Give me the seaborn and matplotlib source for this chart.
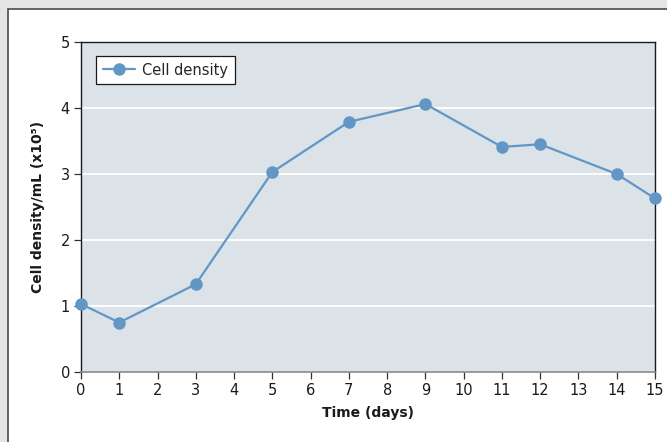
import matplotlib
matplotlib.use("Agg")
import matplotlib.pyplot as plt
import matplotlib.patches as mpatches
import seaborn as sns
import pandas as pd

# Culture growth readings
days = [0, 1, 3, 5, 7, 9, 11, 12, 14, 15]
density = [1.03, 0.75, 1.33, 3.03, 3.79, 4.06, 3.41, 3.45, 3.00, 2.63]
x_ticks = list(range(0, 16))
y_ticks = [0, 1, 2, 3, 4, 5]
series_name = "Cell density"

df = pd.DataFrame({"day": days, "density": density})

sns.set_theme(style="white")
plt.rcParams["font.family"] = ["DejaVu Sans"]

W, H = 667, 442
fig = plt.figure(figsize=(W / 100, H / 100), dpi=100)
fig.patch.set_facecolor("#e4e4e4")

# white card behind the chart
card = mpatches.Rectangle((8 / W, -0.05), 1.1, 1 - 9 / H + 0.05,
                          transform=fig.transFigure, facecolor="white",
                          edgecolor="#4a4a4a", linewidth=1.2, zorder=-1)
fig.patches.append(card)

ax = fig.add_axes([81 / W, 1 - 372 / H, (655 - 81) / W, (372 - 42) / H])
ax.set_zorder(2)
ax.set_facecolor("#dbe3e8")

color = "#6196c5"
sns.lineplot(data=df, x="day", y="density", ax=ax, color=color,
             linewidth=1.6, marker="o", markersize=9, markeredgewidth=0,
             label=series_name, clip_on=False, zorder=5)

ax.set_xlim(0, 15)
ax.set_ylim(0, 5)
ax.set_xticks(x_ticks)
ax.set_yticks(y_ticks)
for yv in y_ticks[1:-1]:
    ax.axhline(yv, color="white", linewidth=1.3, zorder=1)

ax.tick_params(axis="both", which="major", bottom=True, left=True,
               direction="out", length=5, width=0.9,
               color="#333333", labelsize=10.5, labelcolor="#1a1a1a", pad=3)
for side in ["left", "top", "right"]:
    ax.spines[side].set_color("#1a1a1a")
    ax.spines[side].set_linewidth(1.0)
ax.spines["bottom"].set_color("#8a8a8a")
ax.spines["bottom"].set_linewidth(1.2)

ax.set_xlabel("Time (days)", fontsize=10, fontweight="bold", labelpad=6,
              color="#1a1a1a")
ax.set_ylabel("Cell density/mL (x10\u2075)", fontsize=10, fontweight="bold",
              labelpad=11, color="#1a1a1a")

leg = ax.legend(loc="upper left", bbox_to_anchor=(15 / 574, 1 - 14 / 330),
                frameon=True, fancybox=False, fontsize=10.5,
                handlelength=2.2, borderpad=0.45, handletextpad=0.5,
                borderaxespad=0)
leg.get_frame().set_edgecolor("#1a1a1a")
leg.get_frame().set_linewidth(0.9)
leg.get_frame().set_facecolor("white")
leg.get_frame().set_alpha(1)

fig.savefig("out.png", dpi=100, facecolor=fig.get_facecolor())
